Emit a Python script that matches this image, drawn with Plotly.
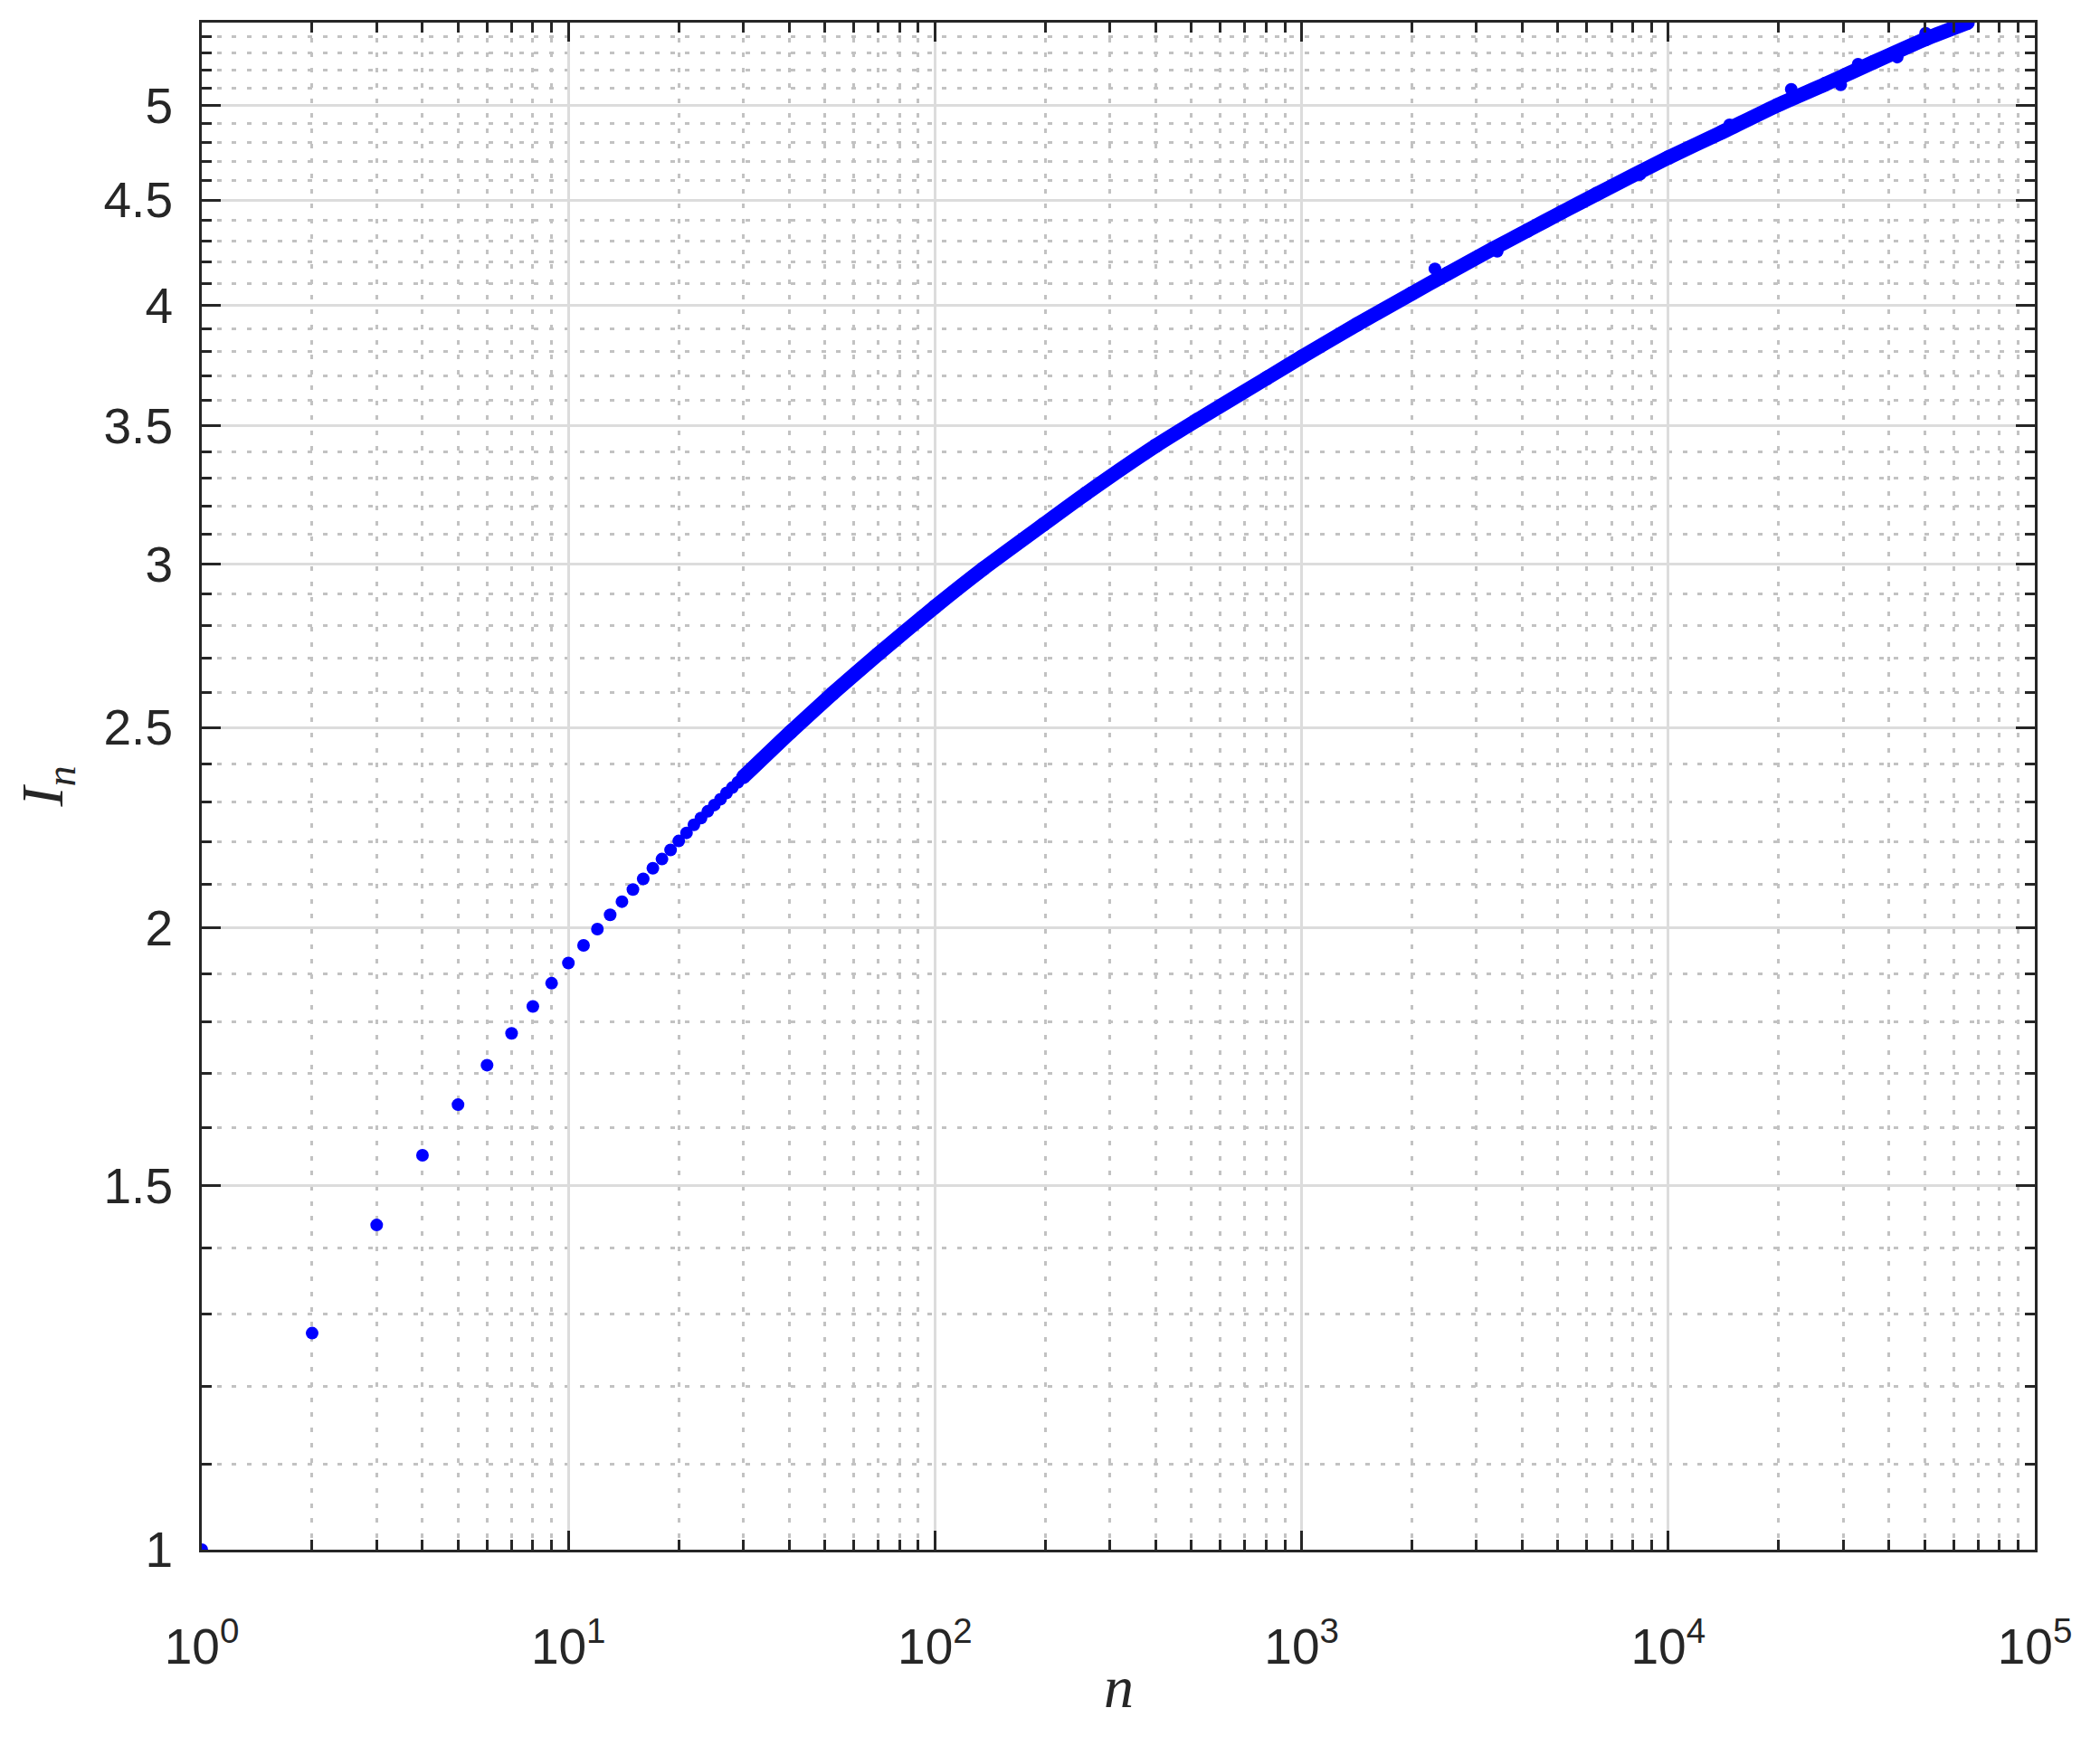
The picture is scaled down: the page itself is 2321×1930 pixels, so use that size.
import math
import plotly.graph_objects as go

# ---- data ----
# individually visible points (small n)
n_points = list(range(1, 31))
I_points = [1.000, 1.273, 1.436, 1.552, 1.642, 1.716, 1.778, 1.832, 1.880, 1.923,
            1.961, 1.997, 2.029, 2.059, 2.087, 2.112, 2.137, 2.159, 2.181, 2.203,
            2.223, 2.243, 2.260, 2.277, 2.293, 2.308, 2.324, 2.338, 2.352, 2.366]

# dense part of the point cloud (read along the centre of the thick band)
n_dense = [30, 40.3, 52.5, 69.8, 100, 135.4, 197.8, 257.8, 401, 519.4, 803, 1000,
           1418, 1993, 2501, 3323, 4131, 5132, 6377, 10000, 13956, 19760, 26800,
           36350, 50350, 65536]
I_dense = [2.366, 2.487, 2.596, 2.712, 2.860, 2.984, 3.135, 3.244, 3.423, 3.522,
           3.690, 3.778, 3.918, 4.054, 4.146, 4.262, 4.350, 4.440, 4.530, 4.718,
           4.852, 5.000, 5.120, 5.248, 5.385, 5.484]

# points sitting slightly off the band
n_off = [2310, 3417, 8369, 14700, 21654, 29551, 32950, 42125, 50350]
I_off = [4.168, 4.250, 4.630, 4.894, 5.091, 5.117, 5.236, 5.277, 5.420]

# axis ticks
x_major = [1, 10, 100, 1000, 10000, 100000]
x_major_text = ["10<sup>0</sup>", "10<sup>1</sup>", "10<sup>2</sup>",
                "10<sup>3</sup>", "10<sup>4</sup>", "10<sup>5</sup>"]
x_minor = [m * 10 ** k for k in range(5) for m in range(2, 10)]
y_major = [1, 1.5, 2, 2.5, 3, 3.5, 4, 4.5, 5]
y_major_text = ["1", "1.5", "2", "2.5", "3", "3.5", "4", "4.5", "5"]
y_minor = [round(1 + 0.1 * i, 1) for i in range(1, 45)]
y_minor = [v for v in y_minor if abs(v * 2 - round(v * 2)) > 1e-9]
y_top = 5.484

BLUE = "#0000ff"
AX = "#262626"
MSIZE = 14

fig = go.Figure()
fig.add_trace(go.Scatter(
    x=n_dense, y=I_dense, mode="lines+markers",
    line=dict(color=BLUE, width=16, shape="spline", smoothing=0.5),
    marker=dict(color=BLUE, size=16, line=dict(width=0)),
    showlegend=False, hoverinfo="skip"))
fig.add_trace(go.Scatter(
    x=n_points, y=I_points, mode="markers",
    marker=dict(color=BLUE, size=MSIZE, line=dict(width=0)),
    showlegend=False))
fig.add_trace(go.Scatter(
    x=n_off, y=I_off, mode="markers",
    marker=dict(color=BLUE, size=MSIZE, line=dict(width=0)),
    showlegend=False))

common = dict(
    showline=True, linecolor=AX, linewidth=3, mirror="allticks",
    ticks="inside", ticklen=21, tickwidth=3, tickcolor=AX,
    showgrid=True, gridcolor="#dcdcdc", gridwidth=3,
    zeroline=False,
    tickfont=dict(family="Liberation Sans, Arial, sans-serif", size=55, color=AX),
)
minor_common = dict(tickmode="array", ticks="inside", ticklen=11, tickwidth=3,
                    tickcolor=AX, showgrid=True, gridcolor="#c2c2c2",
                    gridwidth=3.3, griddash="5px,11.7px")

fig.update_xaxes(
    type="log", range=[0, 5],
    tickmode="array", tickvals=x_major, ticktext=x_major_text,
    minor=dict(tickvals=x_minor, **minor_common),
    ticklabelstandoff=57,
    **common)

fig.update_yaxes(
    type="log", range=[0, math.log10(y_top)],
    tickmode="array", tickvals=y_major, ticktext=y_major_text,
    minor=dict(tickvals=y_minor, **minor_common),
    ticklabelstandoff=18,
    title=dict(text="<i>I</i><sub><i>n</i></sub>", standoff=24,
               font=dict(family="Liberation Serif, Times New Roman, serif", size=66, color=AX)),
    **common)

# x-axis title placed as an annotation for exact positioning
fig.add_annotation(
    text="<i>n</i>", xref="paper", yref="paper", x=0.5, y=-0.0895,
    xanchor="center", yanchor="middle", showarrow=False,
    font=dict(family="Liberation Serif, Times New Roman, serif", size=66, color=AX))

# the page body adds an 8px offset, so the figure is sized/margined to compensate
fig.update_layout(
    width=2313, height=1922, autosize=False,
    margin=dict(l=215, r=72, t=17, b=217, pad=0),
    paper_bgcolor="white", plot_bgcolor="white",
    font=dict(family="Liberation Sans, Arial, sans-serif", color=AX),
)

fig.write_html("out.html")
